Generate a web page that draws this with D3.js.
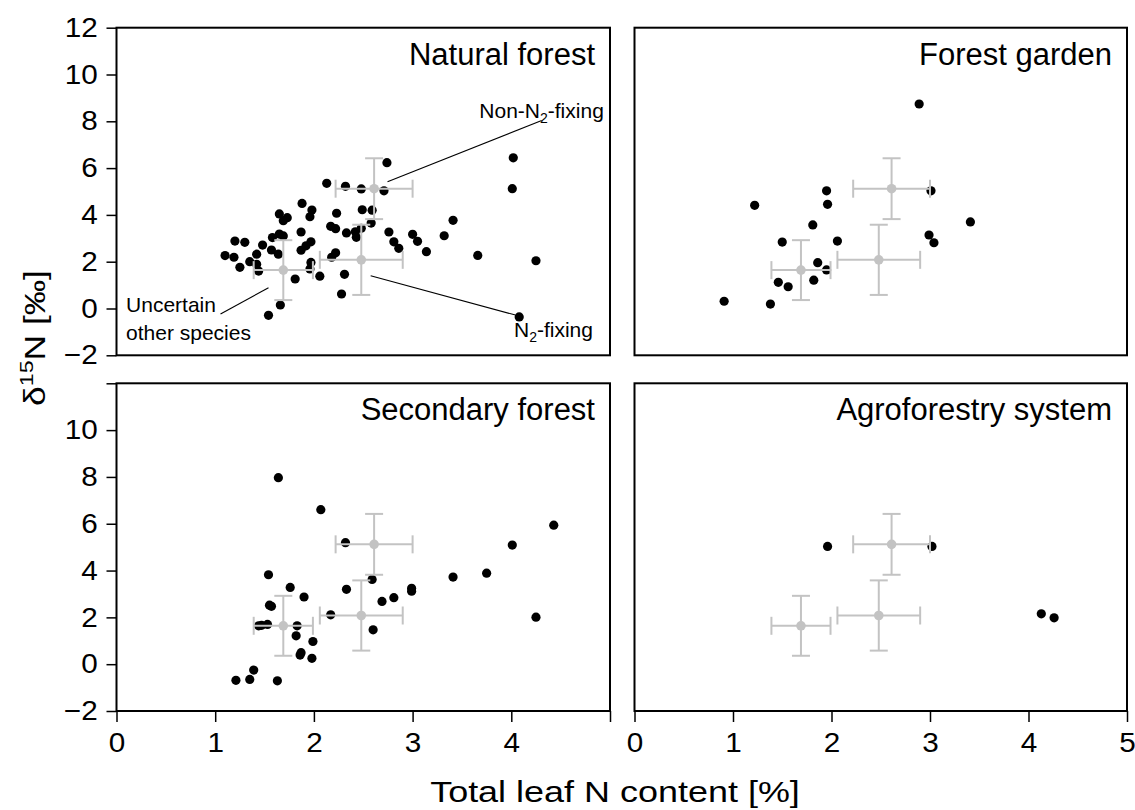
<!DOCTYPE html>
<html><head><meta charset="utf-8">
<script src="https://cdn.jsdelivr.net/npm/d3@7/dist/d3.min.js"></script>
<style>body{margin:0;background:#fff} svg{display:block} text{font-family:"Liberation Sans",Arial,Helvetica,sans-serif;}</style>
</head><body>
<svg id="chart" width="1135" height="810"></svg>
<script>
// ---------- data ----------
const panelNames = ["Natural forest", "Forest garden", "Secondary forest", "Agroforestry system"];
const xTickValues = [0, 1, 2, 3, 4, 5];
const yTickValues = [-2, 0, 2, 4, 6, 8, 10, 12];

const naturalN = [2.74,4.02,4.01,2.13,2.32,2.48,2.71,1.88,1.98,1.96,1.65,1.73,1.69,2.23,2.49,2.59,2.58,3.41,2.17,2.22,2.33,2.42,2.43,2.48,1.87,2.76,3.00,3.32,1.65,1.58,1.69,2.81,3.05,2.86,3.14,1.20,1.30,1.48,1.57,1.64,1.97,1.92,1.87,1.42,1.10,1.19,2.22,2.18,3.66,4.25,1.35,1.42,1.25,1.97,1.96,1.44,2.06,1.81,2.31,2.28,1.66,1.54,4.08];
const naturalD15 = [6.23,6.44,5.12,5.35,5.22,5.11,5.03,4.49,4.21,3.92,4.04,3.88,3.75,4.07,4.22,4.20,3.65,3.77,3.51,3.41,3.23,3.28,3.04,3.43,3.27,3.27,3.17,3.11,3.18,3.03,3.10,2.85,2.87,2.57,2.43,2.88,2.83,2.71,2.50,2.32,2.85,2.68,2.49,2.32,2.26,2.19,2.38,2.19,2.27,2.04,2.00,1.89,1.76,1.97,1.69,1.60,1.38,1.26,1.46,0.62,0.15,-0.29,-0.36];

const gardenN = [2.89,1.95,3.01,1.22,1.96,3.41,1.81,2.99,3.04,1.50,2.06,1.86,1.95,1.82,1.46,1.56,0.91,1.38];
const gardenD15 = [8.74,5.03,5.03,4.41,4.45,3.70,3.57,3.14,2.81,2.84,2.88,1.96,1.65,1.21,1.12,0.93,0.31,0.19];

const secondaryN = [1.64,2.07,4.43,2.32,4.01,1.54,3.41,3.75,2.59,1.76,2.33,2.99,2.99,1.90,2.81,2.69,1.57,1.55,2.17,4.25,1.44,1.53,1.47,1.83,2.60,1.82,1.99,1.87,1.86,1.98,1.39,1.21,1.35,1.63];
const secondaryD15 = [7.97,6.60,5.94,5.19,5.09,3.82,3.72,3.89,3.62,3.28,3.20,3.24,3.12,2.87,2.84,2.68,2.47,2.52,2.11,2.01,1.64,1.70,1.66,1.64,1.47,1.21,0.97,0.49,0.39,0.25,-0.25,-0.69,-0.65,-0.71];

const agroN = [1.96,3.02,4.13,4.26];
const agroD15 = [5.03,5.03,2.15,1.98];

// group means (grey crosses, same in every panel): Non-N2-fixing, N2-fixing, Uncertain other species
const groupMeanN = [2.61, 2.48, 1.69];
const groupMeanD15 = [5.12, 2.08, 1.64];
const groupSdN = [0.39, 0.42, 0.30];
const groupSdD15 = [1.30, 1.50, 1.28];

// ---------- layout ----------
const svg = d3.select("#chart");
const panelBoxes = [
  {x0:116.5, x1:610,  y0:27.7,  y1:355.3},
  {x0:634.5, x1:1127, y0:27.7,  y1:355.3},
  {x0:116.5, x1:610,  y0:383.3, y1:711},
  {x0:634.5, x1:1127, y0:383.3, y1:711}
];
const panelData = [
  [naturalN, naturalD15], [gardenN, gardenD15], [secondaryN, secondaryD15], [agroN, agroD15]
];
const grey = "#c3c3c3";
const fontTick = 27;
const tickStretch = 1.1;

function crossSegments(x, y, k, cap) {
  const m = groupMeanN[k];
  const cx = x(m), cy = y(groupMeanD15[k]);
  const xl = x(m - groupSdN[k]), xr = x(m + groupSdN[k]);
  const yt = y(groupMeanD15[k] + groupSdD15[k]), yb = y(groupMeanD15[k] - groupSdD15[k]);
  return {cx, cy, segs: [
    [xl, cy, xr, cy], [cx, yt, cx, yb],
    [xl, cy - cap, xl, cy + cap], [xr, cy - cap, xr, cy + cap],
    [cx - cap, yt, cx + cap, yt], [cx - cap, yb, cx + cap, yb]
  ]};
}

panelBoxes.forEach((b, i) => {
  const x = d3.scaleLinear().domain([0, 5]).range([b.x0, b.x1]);
  const y = d3.scaleLinear().domain([-2, 12]).range([b.y1, b.y0]);
  const g = svg.append("g");
  const [nv, dv] = panelData[i];

  // black points
  g.append("g").selectAll("circle").data(nv.map((v, j) => [v, dv[j]])).join("circle")
    .attr("cx", d => x(d[0])).attr("cy", d => y(d[1])).attr("r", 4.6).attr("fill", "#000");

  // grey group means with error bars
  const go = g.append("g");
  groupMeanN.forEach((m, k) => {
    const c = crossSegments(x, y, k, 9);
    c.segs.forEach(s => go.append("line").attr("x1", s[0]).attr("y1", s[1]).attr("x2", s[2]).attr("y2", s[3])
      .attr("stroke", grey).attr("stroke-width", 2));
    go.append("circle").attr("cx", c.cx).attr("cy", c.cy).attr("r", 4.8).attr("fill", grey);
  });

  // frame
  g.append("rect").attr("x", b.x0).attr("y", b.y0).attr("width", b.x1 - b.x0).attr("height", b.y1 - b.y0)
    .attr("fill", "none").attr("stroke", "#000").attr("stroke-width", 2);

  // panel title
  g.append("text").attr("x", b.x1 - 15).attr("y", b.y0 + 37).attr("text-anchor", "end")
    .attr("font-size", 31).attr("fill", "#000").text(panelNames[i]);

  // y axis on left panels
  if (i === 0 || i === 2) {
    const ya = d3.axisLeft(y).tickValues(yTickValues).tickSize(10).tickPadding(7)
      .tickFormat(d => (i === 2 && d === 12) ? "" : d3.format("d")(d));
    const ag = svg.append("g").attr("transform", `translate(${b.x0},0)`).call(ya);
    ag.select(".domain").remove();
    ag.selectAll(".tick line").attr("stroke", "#000").attr("stroke-width", 1.5);
    ag.selectAll(".tick text").attr("font-size", fontTick).attr("fill", "#000")
      .attr("font-family", '"Liberation Sans",Arial,sans-serif')
      .attr("transform", `scale(${tickStretch},1)`);
  }
  // x axis on bottom panels
  if (i === 2 || i === 3) {
    const xa = d3.axisBottom(x).tickValues(xTickValues).tickSize(11).tickPadding(11)
      .tickFormat(d => (i === 2 && d === 5) ? "" : d3.format("d")(d));
    const ag = svg.append("g").attr("transform", `translate(0,${b.y1})`).call(xa);
    ag.select(".domain").remove();
    ag.selectAll(".tick line").attr("stroke", "#000").attr("stroke-width", 1.5);
    ag.selectAll(".tick text").attr("font-size", fontTick).attr("fill", "#000")
      .attr("font-family", '"Liberation Sans",Arial,sans-serif')
      .attr("transform", `scale(${tickStretch},1)`);
  }

  // annotations in the natural forest panel
  if (i === 0) {
    const ann = g.append("g");
    const leaders = [
      [[2.746, 5.42], [4.308, 8.03]],
      [[2.575, 1.40], [4.042, -0.28]],
      [[1.054, -0.235], [1.54, 0.89]]
    ];
    leaders.forEach(l => ann.append("line")
      .attr("x1", x(l[0][0])).attr("y1", y(l[0][1])).attr("x2", x(l[1][0])).attr("y2", y(l[1][1]))
      .attr("stroke", "#000").attr("stroke-width", 1.1));
    const fs = 21;
    const t1 = ann.append("text").attr("x", x(3.676)).attr("y", y(8.13)).attr("font-size", fs);
    t1.append("tspan").text("Non-N");
    t1.append("tspan").attr("font-size", 14).attr("dy", 5).text("2");
    t1.append("tspan").attr("dy", -5).text("-fixing");
    const t2 = ann.append("text").attr("x", x(4.027)).attr("y", y(-1.21)).attr("font-size", fs);
    t2.append("tspan").text("N");
    t2.append("tspan").attr("font-size", 14).attr("dy", 5).text("2");
    t2.append("tspan").attr("dy", -5).text("-fixing");
    ann.append("text").attr("x", x(0.097)).attr("y", y(-0.137)).attr("font-size", fs).text("Uncertain");
    ann.append("text").attr("x", x(0.097)).attr("y", y(-1.35)).attr("font-size", fs).text("other species");
  }
});

// axis titles
svg.append("text").attr("transform", "translate(615,802) scale(1.24,1)").attr("text-anchor", "middle")
  .attr("font-size", 29).attr("fill", "#000").text("Total leaf N content [%]");
const yt = svg.append("text").attr("transform", "translate(45,338) rotate(-90) scale(1.22,1)")
  .attr("text-anchor", "middle").attr("font-size", 29).attr("fill", "#000");
yt.append("tspan").text("δ");
yt.append("tspan").attr("font-size", 19).attr("dy", -12).text("15");
yt.append("tspan").attr("dy", 12).text("N [‰]");
</script>
</body></html>
